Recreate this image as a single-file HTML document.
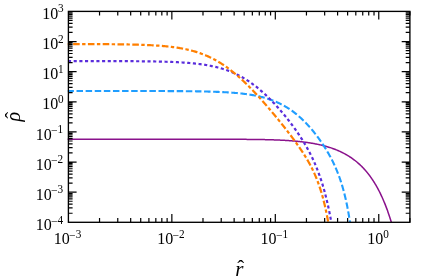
<!DOCTYPE html>
<html><head><meta charset="utf-8"><title>plot</title>
<style>
html,body{margin:0;padding:0;background:#fff;}
svg{display:block;}
text{font-family:"Liberation Serif",serif;fill:#000;}
.tl{font-size:16px;}
.ex{font-size:11.6px;}
.al{font-size:20px;font-style:italic;}
</style></head><body>
<svg width="421" height="279" viewBox="0 0 421 279">
<rect x="0" y="0" width="421" height="279" fill="#fff"/>
<defs><clipPath id="ax"><rect x="67.65" y="11.4" width="342.25" height="210.9"/></clipPath></defs>
<g clip-path="url(#ax)" fill="none" stroke-linecap="butt" stroke-linejoin="round">
<path d="M67.00 139.27 L67.80 139.27 L68.60 139.27 L69.40 139.27 L70.20 139.27 L71.00 139.27 L71.80 139.27 L72.60 139.27 L73.40 139.27 L74.20 139.27 L75.00 139.27 L75.80 139.27 L76.60 139.27 L77.40 139.27 L78.20 139.27 L79.00 139.27 L79.80 139.27 L80.60 139.27 L81.40 139.27 L82.20 139.27 L83.00 139.27 L83.80 139.27 L84.60 139.27 L85.40 139.27 L86.20 139.27 L87.00 139.27 L87.80 139.27 L88.60 139.27 L89.40 139.27 L90.20 139.27 L91.00 139.27 L91.80 139.27 L92.60 139.27 L93.40 139.27 L94.20 139.27 L95.00 139.27 L95.80 139.27 L96.60 139.27 L97.40 139.27 L98.20 139.27 L99.00 139.27 L99.80 139.27 L100.60 139.27 L101.40 139.27 L102.20 139.27 L103.00 139.27 L103.80 139.27 L104.60 139.27 L105.40 139.27 L106.20 139.27 L107.00 139.27 L107.80 139.27 L108.60 139.27 L109.40 139.27 L110.20 139.27 L111.00 139.27 L111.80 139.27 L112.60 139.27 L113.40 139.27 L114.20 139.27 L115.00 139.27 L115.80 139.27 L116.60 139.27 L117.40 139.27 L118.20 139.27 L119.00 139.27 L119.80 139.27 L120.60 139.27 L121.40 139.27 L122.20 139.27 L123.00 139.27 L123.80 139.27 L124.60 139.27 L125.40 139.27 L126.20 139.27 L127.00 139.27 L127.80 139.27 L128.60 139.27 L129.40 139.27 L130.20 139.27 L131.00 139.27 L131.80 139.27 L132.60 139.27 L133.40 139.27 L134.20 139.27 L135.00 139.27 L135.80 139.27 L136.60 139.27 L137.40 139.27 L138.20 139.27 L139.00 139.27 L139.80 139.27 L140.60 139.27 L141.40 139.27 L142.20 139.27 L143.00 139.27 L143.80 139.27 L144.60 139.27 L145.40 139.27 L146.20 139.27 L147.00 139.27 L147.80 139.27 L148.60 139.27 L149.40 139.27 L150.20 139.27 L151.00 139.27 L151.80 139.27 L152.60 139.27 L153.40 139.27 L154.20 139.27 L155.00 139.27 L155.80 139.27 L156.60 139.27 L157.40 139.27 L158.20 139.27 L159.00 139.27 L159.80 139.27 L160.60 139.27 L161.40 139.27 L162.20 139.27 L163.00 139.27 L163.80 139.27 L164.60 139.27 L165.40 139.27 L166.20 139.27 L167.00 139.27 L167.80 139.27 L168.60 139.27 L169.40 139.27 L170.20 139.27 L171.00 139.27 L171.80 139.27 L172.60 139.27 L173.40 139.27 L174.20 139.27 L175.00 139.27 L175.80 139.27 L176.60 139.27 L177.40 139.27 L178.20 139.27 L179.00 139.27 L179.80 139.27 L180.60 139.27 L181.40 139.27 L182.20 139.27 L183.00 139.27 L183.80 139.27 L184.60 139.27 L185.40 139.27 L186.20 139.27 L187.00 139.27 L187.80 139.27 L188.60 139.27 L189.40 139.27 L190.20 139.27 L191.00 139.27 L191.80 139.27 L192.60 139.27 L193.40 139.27 L194.20 139.27 L195.00 139.27 L195.80 139.27 L196.60 139.27 L197.40 139.27 L198.20 139.27 L199.00 139.27 L199.80 139.27 L200.60 139.27 L201.40 139.27 L202.20 139.27 L203.00 139.27 L203.80 139.27 L204.60 139.27 L205.40 139.27 L206.20 139.27 L207.00 139.27 L207.80 139.27 L208.60 139.27 L209.40 139.27 L210.20 139.27 L211.00 139.27 L211.80 139.27 L212.60 139.27 L213.40 139.27 L214.20 139.27 L215.00 139.28 L215.80 139.28 L216.60 139.28 L217.40 139.28 L218.20 139.28 L219.00 139.28 L219.80 139.28 L220.60 139.28 L221.40 139.28 L222.20 139.28 L223.00 139.28 L223.80 139.29 L224.60 139.29 L225.40 139.29 L226.20 139.29 L227.00 139.29 L227.80 139.29 L228.60 139.29 L229.40 139.30 L230.20 139.30 L231.00 139.30 L231.80 139.30 L232.60 139.31 L233.40 139.31 L234.20 139.31 L235.00 139.31 L235.80 139.32 L236.60 139.32 L237.40 139.32 L238.20 139.33 L239.00 139.33 L239.80 139.33 L240.60 139.34 L241.40 139.34 L242.20 139.35 L243.00 139.35 L243.80 139.36 L244.60 139.36 L245.40 139.37 L246.20 139.37 L247.00 139.38 L247.80 139.39 L248.60 139.39 L249.40 139.40 L250.20 139.41 L251.00 139.42 L251.80 139.42 L252.60 139.43 L253.40 139.44 L254.20 139.45 L255.00 139.46 L255.80 139.47 L256.60 139.48 L257.40 139.49 L258.20 139.51 L259.00 139.52 L259.80 139.53 L260.60 139.55 L261.40 139.56 L262.20 139.58 L263.00 139.59 L263.80 139.61 L264.60 139.62 L265.40 139.64 L266.20 139.66 L267.00 139.68 L267.80 139.70 L268.60 139.72 L269.40 139.74 L270.20 139.77 L271.00 139.79 L271.80 139.81 L272.59 139.84 L273.39 139.87 L274.19 139.89 L274.99 139.92 L275.79 139.95 L276.59 139.98 L277.39 140.02 L278.19 140.05 L278.99 140.08 L279.79 140.12 L280.59 140.16 L281.39 140.20 L282.19 140.24 L282.99 140.28 L283.78 140.32 L284.58 140.36 L285.38 140.41 L286.18 140.46 L286.98 140.51 L287.78 140.56 L288.58 140.61 L289.37 140.67 L290.17 140.72 L290.97 140.78 L291.77 140.84 L292.56 140.91 L293.36 140.97 L294.16 141.04 L294.96 141.11 L295.75 141.18 L296.55 141.25 L297.35 141.33 L298.14 141.41 L298.94 141.49 L299.73 141.57 L300.53 141.66 L301.32 141.75 L302.12 141.84 L302.91 141.93 L303.71 142.03 L304.50 142.13 L305.29 142.23 L306.09 142.34 L306.88 142.45 L307.67 142.56 L308.46 142.68 L309.25 142.80 L310.04 142.92 L310.83 143.05 L311.62 143.18 L312.41 143.32 L313.20 143.45 L313.99 143.60 L314.77 143.74 L315.56 143.89 L316.34 144.05 L317.13 144.21 L317.91 144.37 L318.69 144.54 L319.47 144.71 L320.26 144.89 L321.03 145.07 L321.81 145.25 L322.59 145.45 L323.36 145.64 L324.14 145.84 L324.91 146.05 L325.68 146.26 L326.45 146.48 L327.22 146.70 L327.99 146.93 L328.75 147.17 L329.52 147.41 L330.28 147.65 L331.04 147.91 L331.79 148.16 L332.55 148.43 L333.30 148.70 L334.05 148.98 L334.80 149.26 L335.54 149.55 L336.29 149.85 L337.03 150.15 L337.77 150.46 L338.50 150.78 L339.23 151.10 L339.96 151.43 L340.69 151.77 L341.41 152.11 L342.13 152.46 L342.84 152.82 L343.55 153.19 L344.26 153.56 L344.96 153.94 L345.66 154.33 L346.36 154.72 L347.05 155.13 L347.74 155.54 L348.42 155.95 L349.10 156.38 L349.77 156.81 L350.44 157.25 L351.11 157.69 L351.77 158.15 L352.42 158.61 L353.07 159.07 L353.71 159.55 L354.35 160.03 L354.99 160.52 L355.61 161.01 L356.24 161.52 L356.85 162.03 L357.46 162.54 L358.07 163.06 L358.67 163.59 L359.26 164.13 L359.85 164.67 L360.44 165.22 L361.01 165.77 L361.58 166.33 L362.15 166.90 L362.71 167.47 L363.26 168.05 L363.81 168.63 L364.35 169.22 L364.89 169.82 L365.41 170.42 L365.94 171.02 L366.46 171.63 L366.97 172.25 L367.47 172.87 L367.97 173.49 L368.47 174.12 L368.96 174.75 L369.44 175.39 L369.92 176.03 L370.39 176.68 L370.86 177.33 L371.32 177.98 L371.77 178.64 L372.22 179.30 L372.67 179.97 L373.11 180.64 L373.54 181.31 L373.97 181.98 L374.39 182.66 L374.81 183.34 L375.22 184.03 L375.63 184.72 L376.04 185.41 L376.44 186.10 L376.83 186.80 L377.22 187.49 L377.60 188.20 L377.98 188.90 L378.36 189.61 L378.73 190.31 L379.10 191.03 L379.46 191.74 L379.82 192.45 L380.18 193.17 L380.53 193.89 L380.87 194.61 L381.21 195.33 L381.55 196.06 L381.89 196.79 L382.22 197.51 L382.54 198.24 L382.87 198.98 L383.19 199.71 L383.50 200.44 L383.82 201.18 L384.12 201.92 L384.43 202.66 L384.73 203.40 L385.03 204.14 L385.33 204.88 L385.62 205.63 L385.91 206.37 L386.20 207.12 L386.48 207.87 L386.76 208.62 L387.04 209.37 L387.31 210.12 L387.58 210.87 L387.85 211.63 L388.12 212.38 L388.38 213.14 L388.64 213.89 L388.90 214.65 L389.15 215.41 L389.41 216.17 L389.66 216.93 L389.91 217.69 L390.15 218.45 L390.39 219.21 L390.64 219.97 L390.87 220.74 L391.11 221.50 L391.34 222.27 L391.58 223.03 L391.80 223.80 L392.03 224.57" stroke="#8A128C" stroke-width="1.5"/>
<path d="M67.40 90.99 L68.20 90.99 L69.00 90.99 L69.80 90.99 L70.60 90.99 L71.40 90.99 L72.20 90.99 L73.00 90.99 L73.80 90.99 L74.60 90.99 L75.40 90.99 L76.20 90.99 L77.00 90.99 L77.80 90.99 L78.60 90.99 L79.40 90.99 L80.20 90.99 L81.00 90.99 L81.80 90.99 L82.60 90.99 L83.40 90.99 L84.20 90.99 L85.00 90.99 L85.80 90.99 L86.60 90.99 L87.40 90.99 L88.20 90.99 L89.00 90.99 L89.80 90.99 L90.60 90.99 L91.40 90.99 L92.20 90.99 L93.00 90.99 L93.80 90.99 L94.60 90.99 L95.40 90.99 L96.20 90.99 L97.00 90.99 L97.80 90.99 L98.60 90.99 L99.40 90.99 L100.20 90.99 L101.00 90.99 L101.80 90.99 L102.60 90.99 L103.40 90.99 L104.20 90.99 L105.00 90.99 L105.80 90.99 L106.60 90.99 L107.40 90.99 L108.20 90.99 L109.00 90.99 L109.80 90.99 L110.60 90.99 L111.40 90.99 L112.20 90.99 L113.00 90.99 L113.80 90.99 L114.60 90.99 L115.40 90.99 L116.20 90.99 L117.00 90.99 L117.80 91.00 L118.60 91.00 L119.40 91.00 L120.20 91.00 L121.00 91.00 L121.80 91.00 L122.60 91.00 L123.40 91.00 L124.20 91.00 L125.00 91.00 L125.80 91.00 L126.60 91.00 L127.40 91.00 L128.20 91.00 L129.00 91.00 L129.80 91.00 L130.60 91.00 L131.40 91.00 L132.20 91.00 L133.00 91.01 L133.80 91.01 L134.60 91.01 L135.40 91.01 L136.20 91.01 L137.00 91.01 L137.80 91.01 L138.60 91.01 L139.40 91.01 L140.20 91.01 L141.00 91.01 L141.80 91.02 L142.60 91.02 L143.40 91.02 L144.20 91.02 L145.00 91.02 L145.80 91.02 L146.60 91.02 L147.40 91.02 L148.20 91.03 L149.00 91.03 L149.80 91.03 L150.60 91.03 L151.40 91.03 L152.20 91.03 L153.00 91.04 L153.80 91.04 L154.60 91.04 L155.40 91.04 L156.20 91.04 L157.00 91.05 L157.80 91.05 L158.60 91.05 L159.40 91.05 L160.20 91.05 L161.00 91.06 L161.80 91.06 L162.60 91.06 L163.40 91.07 L164.20 91.07 L165.00 91.07 L165.80 91.07 L166.60 91.08 L167.40 91.08 L168.20 91.08 L169.00 91.09 L169.80 91.09 L170.60 91.10 L171.40 91.10 L172.20 91.10 L173.00 91.11 L173.80 91.11 L174.60 91.12 L175.40 91.12 L176.20 91.13 L177.00 91.13 L177.80 91.14 L178.60 91.14 L179.40 91.15 L180.20 91.16 L181.00 91.16 L181.80 91.17 L182.60 91.17 L183.40 91.18 L184.20 91.19 L185.00 91.20 L185.80 91.20 L186.60 91.21 L187.40 91.22 L188.20 91.23 L189.00 91.24 L189.80 91.25 L190.60 91.26 L191.40 91.27 L192.20 91.28 L193.00 91.29 L193.80 91.30 L194.60 91.31 L195.40 91.32 L196.20 91.33 L197.00 91.34 L197.80 91.36 L198.60 91.37 L199.40 91.39 L200.20 91.40 L201.00 91.41 L201.80 91.43 L202.60 91.45 L203.40 91.46 L204.20 91.48 L205.00 91.50 L205.80 91.52 L206.60 91.54 L207.40 91.56 L208.20 91.58 L209.00 91.60 L209.80 91.62 L210.60 91.64 L211.39 91.67 L212.19 91.69 L212.99 91.72 L213.79 91.74 L214.59 91.77 L215.39 91.80 L216.19 91.83 L216.99 91.86 L217.79 91.89 L218.59 91.92 L219.39 91.95 L220.19 91.99 L220.99 92.02 L221.79 92.06 L222.59 92.10 L223.39 92.14 L224.18 92.18 L224.98 92.22 L225.78 92.27 L226.58 92.31 L227.38 92.36 L228.18 92.41 L228.98 92.46 L229.77 92.51 L230.57 92.57 L231.37 92.62 L232.17 92.68 L232.97 92.74 L233.76 92.80 L234.56 92.87 L235.36 92.94 L236.16 93.00 L236.95 93.08 L237.75 93.15 L238.55 93.23 L239.34 93.30 L240.14 93.39 L240.93 93.47 L241.73 93.56 L242.52 93.65 L243.32 93.74 L244.11 93.84 L244.91 93.94 L245.70 94.04 L246.49 94.14 L247.28 94.25 L248.08 94.37 L248.87 94.48 L249.66 94.60 L250.45 94.73 L251.24 94.86 L252.03 94.99 L252.82 95.13 L253.60 95.27 L254.39 95.41 L255.18 95.56 L255.96 95.72 L256.74 95.88 L257.53 96.04 L258.31 96.21 L259.09 96.38 L259.87 96.56 L260.65 96.75 L261.42 96.94 L262.20 97.14 L262.97 97.34 L263.75 97.54 L264.52 97.76 L265.29 97.98 L266.06 98.20 L266.82 98.43 L267.59 98.67 L268.35 98.91 L269.11 99.16 L269.87 99.42 L270.62 99.68 L271.37 99.95 L272.12 100.23 L272.87 100.51 L273.62 100.80 L274.36 101.10 L275.10 101.40 L275.84 101.71 L276.57 102.03 L277.31 102.35 L278.03 102.68 L278.76 103.02 L279.48 103.37 L280.20 103.72 L280.91 104.08 L281.63 104.44 L282.33 104.81 L283.04 105.19 L283.74 105.58 L284.44 105.97 L285.13 106.37 L285.82 106.78 L286.50 107.19 L287.18 107.61 L287.86 108.04 L288.53 108.47 L289.20 108.91 L289.87 109.35 L290.53 109.80 L291.19 110.26 L291.84 110.72 L292.49 111.19 L293.13 111.67 L293.77 112.15 L294.41 112.63 L295.04 113.12 L295.66 113.62 L296.29 114.12 L296.91 114.63 L297.52 115.14 L298.13 115.66 L298.74 116.18 L299.34 116.71 L299.94 117.24 L300.53 117.78 L301.12 118.32 L301.71 118.86 L302.29 119.41 L302.87 119.96 L303.44 120.52 L304.01 121.08 L304.58 121.65 L305.14 122.22 L305.70 122.79 L306.25 123.37 L306.80 123.95 L307.35 124.53 L307.89 125.12 L308.43 125.71 L308.97 126.30 L309.50 126.90 L310.03 127.50 L310.56 128.10 L311.08 128.71 L311.60 129.32 L312.11 129.93 L312.62 130.54 L313.13 131.16 L313.64 131.78 L314.14 132.40 L314.64 133.03 L315.13 133.66 L315.63 134.29 L316.11 134.92 L316.60 135.56 L317.08 136.20 L317.56 136.84 L318.04 137.48 L318.51 138.12 L318.98 138.77 L319.45 139.42 L319.91 140.07 L320.37 140.73 L320.83 141.38 L321.28 142.04 L321.73 142.70 L322.18 143.37 L322.63 144.03 L323.07 144.70 L323.51 145.37 L323.94 146.04 L324.37 146.71 L324.80 147.39 L325.23 148.07 L325.65 148.75 L326.07 149.43 L326.48 150.11 L326.90 150.80 L327.30 151.48 L327.71 152.17 L328.11 152.87 L328.51 153.56 L328.90 154.26 L329.29 154.95 L329.68 155.65 L330.07 156.36 L330.45 157.06 L330.82 157.77 L331.20 158.47 L331.57 159.18 L331.93 159.89 L332.29 160.61 L332.65 161.32 L333.00 162.04 L333.35 162.76 L333.70 163.48 L334.04 164.21 L334.38 164.93 L334.71 165.66 L335.04 166.39 L335.37 167.12 L335.69 167.85 L336.01 168.58 L336.32 169.32 L336.63 170.06 L336.94 170.79 L337.24 171.54 L337.54 172.28 L337.83 173.02 L338.12 173.77 L338.41 174.51 L338.69 175.26 L338.97 176.01 L339.25 176.76 L339.52 177.52 L339.78 178.27 L340.05 179.03 L340.30 179.78 L340.56 180.54 L340.81 181.30 L341.06 182.06 L341.30 182.82 L341.54 183.59 L341.78 184.35 L342.01 185.12 L342.24 185.88 L342.47 186.65 L342.69 187.42 L342.91 188.19 L343.13 188.96 L343.34 189.73 L343.55 190.50 L343.76 191.27 L343.96 192.05 L344.17 192.82 L344.36 193.60 L344.56 194.37 L344.75 195.15 L344.94 195.93 L345.13 196.70 L345.31 197.48 L345.49 198.26 L345.67 199.04 L345.85 199.82 L346.02 200.60 L346.19 201.38 L346.36 202.17 L346.53 202.95 L346.69 203.73 L346.85 204.52 L347.01 205.30 L347.17 206.08 L347.33 206.87 L347.48 207.65 L347.63 208.44 L347.78 209.22 L347.93 210.01 L348.07 210.80 L348.22 211.59 L348.36 212.37 L348.50 213.16 L348.64 213.95 L348.77 214.74 L348.91 215.53 L349.04 216.31 L349.17 217.10 L349.30 217.89 L349.43 218.68 L349.55 219.47 L349.68 220.26 L349.80 221.05 L349.92 221.84 L350.04 222.64 L350.16 223.43 L350.28 224.22 L350.39 225.01" stroke="#209EFF" stroke-width="2.1" stroke-dasharray="6.5 2.61" stroke-dashoffset="0"/>
<path d="M62.30 61.06 L63.10 61.06 L63.90 61.06 L64.70 61.06 L65.50 61.06 L66.30 61.06 L67.10 61.06 L67.90 61.06 L68.70 61.06 L69.50 61.06 L70.30 61.06 L71.10 61.06 L71.90 61.06 L72.70 61.06 L73.50 61.06 L74.30 61.07 L75.10 61.07 L75.90 61.07 L76.70 61.07 L77.50 61.07 L78.30 61.07 L79.10 61.07 L79.90 61.07 L80.70 61.07 L81.50 61.07 L82.30 61.07 L83.10 61.07 L83.90 61.07 L84.70 61.07 L85.50 61.07 L86.30 61.07 L87.10 61.07 L87.90 61.07 L88.70 61.08 L89.50 61.08 L90.30 61.08 L91.10 61.08 L91.90 61.08 L92.70 61.08 L93.50 61.08 L94.30 61.08 L95.10 61.08 L95.90 61.08 L96.70 61.09 L97.50 61.09 L98.30 61.09 L99.10 61.09 L99.90 61.09 L100.70 61.09 L101.50 61.09 L102.30 61.09 L103.10 61.10 L103.90 61.10 L104.70 61.10 L105.50 61.10 L106.30 61.10 L107.10 61.10 L107.90 61.11 L108.70 61.11 L109.50 61.11 L110.30 61.11 L111.10 61.11 L111.90 61.12 L112.70 61.12 L113.50 61.12 L114.30 61.12 L115.10 61.13 L115.90 61.13 L116.70 61.13 L117.50 61.13 L118.30 61.14 L119.10 61.14 L119.90 61.14 L120.70 61.15 L121.50 61.15 L122.30 61.15 L123.10 61.16 L123.90 61.16 L124.70 61.17 L125.50 61.17 L126.30 61.17 L127.10 61.18 L127.90 61.18 L128.70 61.19 L129.50 61.19 L130.30 61.20 L131.10 61.20 L131.90 61.21 L132.70 61.21 L133.50 61.22 L134.30 61.23 L135.10 61.23 L135.90 61.24 L136.70 61.25 L137.50 61.25 L138.30 61.26 L139.10 61.27 L139.90 61.27 L140.70 61.28 L141.50 61.29 L142.30 61.30 L143.10 61.31 L143.90 61.32 L144.70 61.33 L145.50 61.34 L146.30 61.35 L147.10 61.36 L147.90 61.37 L148.70 61.38 L149.50 61.39 L150.30 61.40 L151.10 61.42 L151.90 61.43 L152.70 61.44 L153.50 61.46 L154.30 61.47 L155.10 61.49 L155.90 61.50 L156.70 61.52 L157.50 61.54 L158.30 61.55 L159.10 61.57 L159.90 61.59 L160.70 61.61 L161.50 61.63 L162.30 61.65 L163.10 61.67 L163.90 61.69 L164.70 61.72 L165.49 61.74 L166.29 61.76 L167.09 61.79 L167.89 61.82 L168.69 61.84 L169.49 61.87 L170.29 61.90 L171.09 61.93 L171.89 61.96 L172.69 61.99 L173.49 62.03 L174.29 62.06 L175.09 62.10 L175.89 62.14 L176.69 62.17 L177.49 62.21 L178.28 62.26 L179.08 62.30 L179.88 62.34 L180.68 62.39 L181.48 62.44 L182.28 62.48 L183.08 62.53 L183.87 62.59 L184.67 62.64 L185.47 62.70 L186.27 62.76 L187.07 62.82 L187.86 62.88 L188.66 62.94 L189.46 63.01 L190.26 63.08 L191.05 63.15 L191.85 63.22 L192.65 63.29 L193.44 63.37 L194.24 63.45 L195.03 63.54 L195.83 63.62 L196.62 63.71 L197.42 63.80 L198.21 63.90 L199.01 64.00 L199.80 64.10 L200.59 64.20 L201.39 64.31 L202.18 64.42 L202.97 64.53 L203.76 64.65 L204.55 64.77 L205.34 64.90 L206.13 65.03 L206.92 65.16 L207.71 65.30 L208.50 65.44 L209.28 65.58 L210.07 65.74 L210.85 65.89 L211.64 66.05 L212.42 66.21 L213.20 66.38 L213.98 66.55 L214.76 66.73 L215.54 66.91 L216.32 67.10 L217.10 67.30 L217.87 67.49 L218.65 67.70 L219.42 67.91 L220.19 68.12 L220.96 68.34 L221.72 68.57 L222.49 68.80 L223.25 69.04 L224.02 69.28 L224.78 69.53 L225.54 69.78 L226.29 70.04 L227.05 70.31 L227.80 70.58 L228.55 70.86 L229.30 71.15 L230.04 71.44 L230.78 71.73 L231.52 72.04 L232.26 72.35 L233.00 72.66 L233.73 72.98 L234.46 73.31 L235.19 73.64 L235.91 73.98 L236.63 74.33 L237.35 74.68 L238.07 75.04 L238.78 75.40 L239.49 75.77 L240.20 76.15 L240.90 76.53 L241.60 76.91 L242.30 77.31 L242.99 77.70 L243.68 78.11 L244.37 78.52 L245.05 78.93 L245.73 79.35 L246.41 79.78 L247.09 80.21 L247.76 80.64 L248.43 81.08 L249.09 81.53 L249.75 81.98 L250.41 82.43 L251.07 82.89 L251.72 83.35 L252.37 83.82 L253.01 84.30 L253.65 84.77 L254.29 85.25 L254.93 85.74 L255.56 86.23 L256.19 86.72 L256.82 87.22 L257.44 87.72 L258.06 88.23 L258.68 88.74 L259.29 89.25 L259.90 89.77 L260.51 90.29 L261.12 90.81 L261.72 91.33 L262.32 91.86 L262.92 92.40 L263.51 92.93 L264.10 93.47 L264.69 94.01 L265.28 94.56 L265.86 95.10 L266.44 95.65 L267.02 96.21 L267.59 96.76 L268.17 97.32 L268.74 97.88 L269.31 98.44 L269.87 99.01 L270.44 99.58 L271.00 100.15 L271.56 100.72 L272.11 101.29 L272.67 101.87 L273.22 102.45 L273.77 103.03 L274.32 103.61 L274.86 104.20 L275.41 104.79 L275.95 105.38 L276.49 105.97 L277.02 106.56 L277.56 107.16 L278.09 107.75 L278.62 108.35 L279.15 108.95 L279.68 109.55 L280.20 110.16 L280.72 110.76 L281.24 111.37 L281.76 111.98 L282.28 112.59 L282.80 113.20 L283.31 113.82 L283.82 114.43 L284.33 115.05 L284.84 115.67 L285.34 116.29 L285.84 116.91 L286.35 117.53 L286.85 118.16 L287.34 118.78 L287.84 119.41 L288.33 120.04 L288.82 120.67 L289.31 121.30 L289.80 121.94 L290.29 122.57 L290.77 123.21 L291.25 123.85 L291.73 124.49 L292.21 125.13 L292.69 125.77 L293.16 126.42 L293.63 127.06 L294.10 127.71 L294.57 128.36 L295.04 129.01 L295.50 129.66 L295.96 130.32 L296.42 130.97 L296.88 131.63 L297.33 132.29 L297.78 132.95 L298.23 133.61 L298.68 134.27 L299.12 134.94 L299.57 135.61 L300.01 136.27 L300.44 136.94 L300.88 137.62 L301.31 138.29 L301.74 138.96 L302.17 139.64 L302.59 140.32 L303.01 141.00 L303.43 141.68 L303.85 142.36 L304.26 143.05 L304.67 143.73 L305.08 144.42 L305.48 145.11 L305.88 145.80 L306.28 146.50 L306.68 147.19 L307.07 147.89 L307.46 148.59 L307.85 149.29 L308.23 149.99 L308.61 150.70 L308.99 151.40 L309.36 152.11 L309.73 152.82 L310.10 153.53 L310.46 154.24 L310.82 154.96 L311.18 155.67 L311.54 156.39 L311.89 157.11 L312.23 157.83 L312.58 158.55 L312.92 159.27 L313.26 160.00 L313.59 160.73 L313.92 161.45 L314.25 162.18 L314.57 162.92 L314.89 163.65 L315.21 164.38 L315.52 165.12 L315.83 165.86 L316.14 166.60 L316.45 167.34 L316.75 168.08 L317.04 168.82 L317.34 169.56 L317.63 170.31 L317.92 171.06 L318.20 171.80 L318.48 172.55 L318.76 173.30 L319.03 174.05 L319.31 174.81 L319.58 175.56 L319.84 176.31 L320.10 177.07 L320.36 177.83 L320.62 178.58 L320.88 179.34 L321.13 180.10 L321.37 180.86 L321.62 181.62 L321.86 182.39 L322.10 183.15 L322.34 183.91 L322.57 184.68 L322.81 185.44 L323.03 186.21 L323.26 186.98 L323.48 187.75 L323.71 188.51 L323.93 189.28 L324.14 190.05 L324.36 190.82 L324.57 191.60 L324.78 192.37 L324.98 193.14 L325.19 193.91 L325.39 194.69 L325.59 195.46 L325.79 196.24 L325.98 197.01 L326.18 197.79 L326.37 198.57 L326.56 199.34 L326.75 200.12 L326.93 200.90 L327.11 201.68 L327.30 202.46 L327.48 203.24 L327.65 204.02 L327.83 204.80 L328.00 205.58 L328.18 206.36 L328.35 207.14 L328.51 207.92 L328.68 208.71 L328.85 209.49 L329.01 210.27 L329.17 211.06 L329.33 211.84 L329.49 212.62 L329.65 213.41 L329.80 214.19 L329.96 214.98 L330.11 215.76 L330.26 216.55 L330.41 217.33 L330.56 218.12 L330.70 218.91 L330.85 219.69 L330.99 220.48 L331.14 221.27 L331.28 222.06 L331.42 222.84 L331.56 223.63 L331.69 224.42" stroke="#5A2DDC" stroke-width="2.2" stroke-dasharray="3.1 2.58" stroke-dashoffset="0"/>
<path d="M58.30 44.06 L59.10 44.06 L59.90 44.06 L60.70 44.06 L61.50 44.06 L62.30 44.06 L63.10 44.06 L63.90 44.06 L64.70 44.07 L65.50 44.07 L66.30 44.07 L67.10 44.07 L67.90 44.07 L68.70 44.07 L69.50 44.07 L70.30 44.07 L71.10 44.07 L71.90 44.08 L72.70 44.08 L73.50 44.08 L74.30 44.08 L75.10 44.08 L75.90 44.08 L76.70 44.08 L77.50 44.09 L78.30 44.09 L79.10 44.09 L79.90 44.09 L80.70 44.09 L81.50 44.09 L82.30 44.10 L83.10 44.10 L83.90 44.10 L84.70 44.10 L85.50 44.11 L86.30 44.11 L87.10 44.11 L87.90 44.11 L88.70 44.12 L89.50 44.12 L90.30 44.12 L91.10 44.12 L91.90 44.13 L92.70 44.13 L93.50 44.13 L94.30 44.14 L95.10 44.14 L95.90 44.14 L96.70 44.15 L97.50 44.15 L98.30 44.16 L99.10 44.16 L99.90 44.16 L100.70 44.17 L101.50 44.17 L102.30 44.18 L103.10 44.18 L103.90 44.19 L104.70 44.19 L105.50 44.20 L106.30 44.20 L107.10 44.21 L107.90 44.22 L108.70 44.22 L109.50 44.23 L110.30 44.24 L111.10 44.24 L111.90 44.25 L112.70 44.26 L113.50 44.27 L114.30 44.27 L115.10 44.28 L115.90 44.29 L116.70 44.30 L117.50 44.31 L118.30 44.32 L119.10 44.33 L119.90 44.34 L120.70 44.35 L121.50 44.36 L122.30 44.37 L123.10 44.39 L123.90 44.40 L124.70 44.41 L125.50 44.43 L126.30 44.44 L127.10 44.45 L127.90 44.47 L128.70 44.48 L129.50 44.50 L130.30 44.52 L131.10 44.53 L131.90 44.55 L132.70 44.57 L133.50 44.59 L134.30 44.61 L135.10 44.63 L135.90 44.65 L136.70 44.67 L137.50 44.70 L138.29 44.72 L139.09 44.74 L139.89 44.77 L140.69 44.79 L141.49 44.82 L142.29 44.85 L143.09 44.88 L143.89 44.91 L144.69 44.94 L145.49 44.97 L146.29 45.00 L147.09 45.04 L147.89 45.07 L148.69 45.11 L149.49 45.15 L150.29 45.19 L151.08 45.23 L151.88 45.27 L152.68 45.31 L153.48 45.36 L154.28 45.41 L155.08 45.45 L155.88 45.50 L156.67 45.56 L157.47 45.61 L158.27 45.66 L159.07 45.72 L159.87 45.78 L160.66 45.84 L161.46 45.90 L162.26 45.97 L163.06 46.04 L163.85 46.11 L164.65 46.18 L165.45 46.25 L166.24 46.33 L167.04 46.41 L167.84 46.49 L168.63 46.58 L169.43 46.66 L170.22 46.75 L171.02 46.85 L171.81 46.94 L172.60 47.04 L173.40 47.15 L174.19 47.25 L174.98 47.36 L175.77 47.47 L176.57 47.59 L177.36 47.71 L178.15 47.83 L178.94 47.96 L179.73 48.09 L180.51 48.22 L181.30 48.36 L182.09 48.51 L182.88 48.65 L183.66 48.80 L184.45 48.96 L185.23 49.12 L186.01 49.29 L186.79 49.46 L187.58 49.63 L188.35 49.81 L189.13 49.99 L189.91 50.18 L190.69 50.38 L191.46 50.58 L192.23 50.78 L193.01 50.99 L193.78 51.21 L194.55 51.43 L195.31 51.65 L196.08 51.89 L196.84 52.12 L197.61 52.37 L198.37 52.62 L199.12 52.87 L199.88 53.13 L200.64 53.40 L201.39 53.67 L202.14 53.95 L202.89 54.23 L203.63 54.52 L204.37 54.81 L205.12 55.12 L205.85 55.42 L206.59 55.74 L207.32 56.06 L208.06 56.38 L208.78 56.71 L209.51 57.05 L210.23 57.39 L210.95 57.74 L211.67 58.09 L212.39 58.45 L213.10 58.82 L213.81 59.19 L214.51 59.56 L215.22 59.94 L215.92 60.33 L216.61 60.72 L217.31 61.12 L218.00 61.52 L218.69 61.93 L219.37 62.34 L220.05 62.76 L220.73 63.19 L221.41 63.61 L222.08 64.05 L222.75 64.48 L223.42 64.92 L224.08 65.37 L224.74 65.82 L225.40 66.28 L226.06 66.74 L226.71 67.20 L227.36 67.67 L228.00 68.14 L228.65 68.61 L229.29 69.09 L229.93 69.58 L230.56 70.06 L231.19 70.55 L231.82 71.05 L232.45 71.54 L233.07 72.04 L233.70 72.55 L234.31 73.05 L234.93 73.56 L235.54 74.08 L236.15 74.59 L236.76 75.11 L237.37 75.64 L237.97 76.16 L238.58 76.69 L239.17 77.22 L239.77 77.75 L240.37 78.29 L240.96 78.82 L241.55 79.36 L242.14 79.91 L242.72 80.45 L243.31 81.00 L243.89 81.55 L244.47 82.10 L245.05 82.65 L245.62 83.21 L246.20 83.76 L246.77 84.32 L247.34 84.88 L247.91 85.45 L248.47 86.01 L249.04 86.58 L249.60 87.15 L250.16 87.72 L250.72 88.29 L251.28 88.86 L251.84 89.44 L252.39 90.01 L252.95 90.59 L253.50 91.17 L254.05 91.75 L254.60 92.33 L255.15 92.91 L255.69 93.50 L256.24 94.08 L256.78 94.67 L257.32 95.26 L257.86 95.85 L258.40 96.44 L258.94 97.03 L259.48 97.62 L260.02 98.21 L260.55 98.81 L261.09 99.41 L261.62 100.00 L262.15 100.60 L262.68 101.20 L263.21 101.80 L263.74 102.40 L264.27 103.00 L264.79 103.60 L265.32 104.21 L265.84 104.81 L266.37 105.41 L266.89 106.02 L267.41 106.63 L267.93 107.23 L268.45 107.84 L268.97 108.45 L269.49 109.06 L270.01 109.67 L270.52 110.28 L271.04 110.89 L271.55 111.51 L272.07 112.12 L272.58 112.73 L273.09 113.35 L273.60 113.96 L274.12 114.58 L274.63 115.19 L275.13 115.81 L275.64 116.43 L276.15 117.05 L276.66 117.67 L277.16 118.28 L277.67 118.90 L278.17 119.53 L278.68 120.15 L279.18 120.77 L279.68 121.39 L280.19 122.01 L280.69 122.64 L281.19 123.26 L281.69 123.89 L282.18 124.51 L282.68 125.14 L283.18 125.77 L283.68 126.39 L284.17 127.02 L284.67 127.65 L285.16 128.28 L285.65 128.91 L286.15 129.54 L286.64 130.17 L287.13 130.80 L287.62 131.44 L288.10 132.07 L288.59 132.70 L289.08 133.34 L289.56 133.97 L290.05 134.61 L290.53 135.25 L291.02 135.89 L291.50 136.53 L291.98 137.17 L292.46 137.81 L292.93 138.45 L293.41 139.09 L293.88 139.73 L294.36 140.38 L294.83 141.03 L295.30 141.67 L295.77 142.32 L296.24 142.97 L296.70 143.62 L297.17 144.27 L297.63 144.92 L298.09 145.58 L298.55 146.23 L299.01 146.89 L299.46 147.55 L299.92 148.21 L300.37 148.87 L300.82 149.53 L301.26 150.19 L301.71 150.86 L302.15 151.52 L302.59 152.19 L303.03 152.86 L303.46 153.53 L303.89 154.21 L304.32 154.88 L304.75 155.56 L305.17 156.24 L305.59 156.92 L306.01 157.60 L306.42 158.29 L306.83 158.98 L307.24 159.67 L307.64 160.36 L308.04 161.05 L308.44 161.74 L308.83 162.44 L309.22 163.14 L309.60 163.84 L309.98 164.54 L310.36 165.25 L310.73 165.96 L311.10 166.67 L311.47 167.38 L311.83 168.09 L312.19 168.81 L312.54 169.53 L312.89 170.25 L313.23 170.97 L313.57 171.69 L313.91 172.42 L314.24 173.15 L314.57 173.88 L314.89 174.61 L315.21 175.34 L315.53 176.08 L315.84 176.81 L316.15 177.55 L316.45 178.29 L316.75 179.04 L317.04 179.78 L317.33 180.52 L317.62 181.27 L317.90 182.02 L318.18 182.77 L318.45 183.52 L318.72 184.28 L318.99 185.03 L319.25 185.79 L319.51 186.54 L319.76 187.30 L320.01 188.06 L320.26 188.82 L320.50 189.58 L320.74 190.35 L320.98 191.11 L321.21 191.88 L321.44 192.64 L321.67 193.41 L321.89 194.18 L322.11 194.95 L322.33 195.72 L322.55 196.49 L322.76 197.26 L322.96 198.03 L323.17 198.81 L323.37 199.58 L323.57 200.35 L323.77 201.13 L323.96 201.91 L324.15 202.68 L324.34 203.46 L324.53 204.24 L324.71 205.02 L324.89 205.80 L325.07 206.58 L325.25 207.36 L325.42 208.14 L325.59 208.92 L325.76 209.70 L325.93 210.48 L326.09 211.27 L326.26 212.05 L326.42 212.83 L326.58 213.62 L326.73 214.40 L326.89 215.19 L327.04 215.97 L327.19 216.76 L327.34 217.54 L327.49 218.33 L327.63 219.12 L327.78 219.90 L327.92 220.69 L328.06 221.48 L328.20 222.27 L328.34 223.05 L328.47 223.84 L328.61 224.63" stroke="#FF7F00" stroke-width="2.2" stroke-dasharray="6.6 2.4 3.4 2.4" stroke-dashoffset="0"/>
</g>
<path d="M99.54 222.3 v-4.2 M99.54 11.4 v4.2 M117.76 222.3 v-4.2 M117.76 11.4 v4.2 M130.68 222.3 v-4.2 M130.68 11.4 v4.2 M140.71 222.3 v-4.2 M140.71 11.4 v4.2 M148.90 222.3 v-4.2 M148.90 11.4 v4.2 M155.83 222.3 v-4.2 M155.83 11.4 v4.2 M161.83 222.3 v-4.2 M161.83 11.4 v4.2 M167.12 222.3 v-4.2 M167.12 11.4 v4.2 M171.85 222.3 v-8.2 M171.85 11.4 v8.2 M202.99 222.3 v-4.2 M202.99 11.4 v4.2 M221.21 222.3 v-4.2 M221.21 11.4 v4.2 M234.14 222.3 v-4.2 M234.14 11.4 v4.2 M244.16 222.3 v-4.2 M244.16 11.4 v4.2 M252.35 222.3 v-4.2 M252.35 11.4 v4.2 M259.28 222.3 v-4.2 M259.28 11.4 v4.2 M265.28 222.3 v-4.2 M265.28 11.4 v4.2 M270.57 222.3 v-4.2 M270.57 11.4 v4.2 M275.31 222.3 v-8.2 M275.31 11.4 v8.2 M306.45 222.3 v-4.2 M306.45 11.4 v4.2 M324.66 222.3 v-4.2 M324.66 11.4 v4.2 M337.59 222.3 v-4.2 M337.59 11.4 v4.2 M347.62 222.3 v-4.2 M347.62 11.4 v4.2 M355.81 222.3 v-4.2 M355.81 11.4 v4.2 M362.73 222.3 v-4.2 M362.73 11.4 v4.2 M368.73 222.3 v-4.2 M368.73 11.4 v4.2 M374.02 222.3 v-4.2 M374.02 11.4 v4.2 M378.76 222.3 v-8.2 M378.76 11.4 v8.2 M409.90 222.3 v-4.2 M409.90 11.4 v4.2 M68.4 213.23 h4.2 M409.9 213.23 h-4.2 M68.4 207.93 h4.2 M409.9 207.93 h-4.2 M68.4 204.16 h4.2 M409.9 204.16 h-4.2 M68.4 201.24 h4.2 M409.9 201.24 h-4.2 M68.4 198.86 h4.2 M409.9 198.86 h-4.2 M68.4 196.84 h4.2 M409.9 196.84 h-4.2 M68.4 195.09 h4.2 M409.9 195.09 h-4.2 M68.4 193.55 h4.2 M409.9 193.55 h-4.2 M68.4 192.17 h8.2 M409.9 192.17 h-8.2 M68.4 183.10 h4.2 M409.9 183.10 h-4.2 M68.4 177.80 h4.2 M409.9 177.80 h-4.2 M68.4 174.03 h4.2 M409.9 174.03 h-4.2 M68.4 171.11 h4.2 M409.9 171.11 h-4.2 M68.4 168.73 h4.2 M409.9 168.73 h-4.2 M68.4 166.71 h4.2 M409.9 166.71 h-4.2 M68.4 164.96 h4.2 M409.9 164.96 h-4.2 M68.4 163.42 h4.2 M409.9 163.42 h-4.2 M68.4 162.04 h8.2 M409.9 162.04 h-8.2 M68.4 152.97 h4.2 M409.9 152.97 h-4.2 M68.4 147.67 h4.2 M409.9 147.67 h-4.2 M68.4 143.90 h4.2 M409.9 143.90 h-4.2 M68.4 140.98 h4.2 M409.9 140.98 h-4.2 M68.4 138.60 h4.2 M409.9 138.60 h-4.2 M68.4 136.58 h4.2 M409.9 136.58 h-4.2 M68.4 134.83 h4.2 M409.9 134.83 h-4.2 M68.4 133.29 h4.2 M409.9 133.29 h-4.2 M68.4 131.91 h8.2 M409.9 131.91 h-8.2 M68.4 122.84 h4.2 M409.9 122.84 h-4.2 M68.4 117.54 h4.2 M409.9 117.54 h-4.2 M68.4 113.78 h4.2 M409.9 113.78 h-4.2 M68.4 110.86 h4.2 M409.9 110.86 h-4.2 M68.4 108.47 h4.2 M409.9 108.47 h-4.2 M68.4 106.45 h4.2 M409.9 106.45 h-4.2 M68.4 104.71 h4.2 M409.9 104.71 h-4.2 M68.4 103.16 h4.2 M409.9 103.16 h-4.2 M68.4 101.79 h8.2 M409.9 101.79 h-8.2 M68.4 92.72 h4.2 M409.9 92.72 h-4.2 M68.4 87.41 h4.2 M409.9 87.41 h-4.2 M68.4 83.65 h4.2 M409.9 83.65 h-4.2 M68.4 80.73 h4.2 M409.9 80.73 h-4.2 M68.4 78.34 h4.2 M409.9 78.34 h-4.2 M68.4 76.32 h4.2 M409.9 76.32 h-4.2 M68.4 74.58 h4.2 M409.9 74.58 h-4.2 M68.4 73.04 h4.2 M409.9 73.04 h-4.2 M68.4 71.66 h8.2 M409.9 71.66 h-8.2 M68.4 62.59 h4.2 M409.9 62.59 h-4.2 M68.4 57.28 h4.2 M409.9 57.28 h-4.2 M68.4 53.52 h4.2 M409.9 53.52 h-4.2 M68.4 50.60 h4.2 M409.9 50.60 h-4.2 M68.4 48.21 h4.2 M409.9 48.21 h-4.2 M68.4 46.20 h4.2 M409.9 46.20 h-4.2 M68.4 44.45 h4.2 M409.9 44.45 h-4.2 M68.4 42.91 h4.2 M409.9 42.91 h-4.2 M68.4 41.53 h8.2 M409.9 41.53 h-8.2 M68.4 32.46 h4.2 M409.9 32.46 h-4.2 M68.4 27.15 h4.2 M409.9 27.15 h-4.2 M68.4 23.39 h4.2 M409.9 23.39 h-4.2 M68.4 20.47 h4.2 M409.9 20.47 h-4.2 M68.4 18.08 h4.2 M409.9 18.08 h-4.2 M68.4 16.07 h4.2 M409.9 16.07 h-4.2 M68.4 14.32 h4.2 M409.9 14.32 h-4.2 M68.4 12.78 h4.2 M409.9 12.78 h-4.2" stroke="#000" stroke-width="1.2" fill="none"/>
<rect x="68.4" y="11.4" width="341.5" height="210.9" fill="none" stroke="#000" stroke-width="1.35"/>
<text class="tl" x="53.72" y="244.30">10</text><text class="ex" transform="translate(69.12,239.00)">−</text><text class="ex" transform="translate(75.66,237.90) scale(0.97,1)">3</text>
<text class="tl" x="157.17" y="244.30">10</text><text class="ex" transform="translate(172.57,239.00)">−</text><text class="ex" transform="translate(179.11,237.90) scale(0.97,1)">2</text>
<text class="tl" x="260.62" y="244.30">10</text><text class="ex" transform="translate(276.02,239.00)">−</text><text class="ex" transform="translate(282.56,237.90) scale(0.97,1)">1</text>
<text class="tl" x="367.34" y="244.30">10</text><text class="ex" transform="translate(383.24,237.90) scale(0.97,1)">0</text>
<text class="tl" x="35.63" y="229.90">10</text><text class="ex" transform="translate(51.03,224.60)">−</text><text class="ex" transform="translate(57.57,223.50) scale(0.97,1)">4</text>
<text class="tl" x="35.63" y="199.77">10</text><text class="ex" transform="translate(51.03,194.47)">−</text><text class="ex" transform="translate(57.57,193.37) scale(0.97,1)">3</text>
<text class="tl" x="35.63" y="169.64">10</text><text class="ex" transform="translate(51.03,164.34)">−</text><text class="ex" transform="translate(57.57,163.24) scale(0.97,1)">2</text>
<text class="tl" x="35.63" y="139.51">10</text><text class="ex" transform="translate(51.03,134.21)">−</text><text class="ex" transform="translate(57.57,133.11) scale(0.97,1)">1</text>
<text class="tl" x="42.17" y="109.39">10</text><text class="ex" transform="translate(58.07,102.99) scale(0.97,1)">0</text>
<text class="tl" x="42.17" y="79.26">10</text><text class="ex" transform="translate(58.07,72.86) scale(0.97,1)">1</text>
<text class="tl" x="42.17" y="49.13">10</text><text class="ex" transform="translate(58.07,42.73) scale(0.97,1)">2</text>
<text class="tl" x="42.17" y="19.00">10</text><text class="ex" transform="translate(58.07,12.30) scale(0.97,1)">3</text>
<text class="al" x="235.3" y="275.5" style="font-size:21px">r</text>
<text x="237.3" y="275.2" style="font-size:21px">ˆ</text>
<g transform="translate(19.8,121.4) rotate(-90)"><text class="al" x="0" y="0">ρ</text><text x="2.6" y="0.5" style="font-size:21px">ˆ</text></g>
</svg></body></html>
